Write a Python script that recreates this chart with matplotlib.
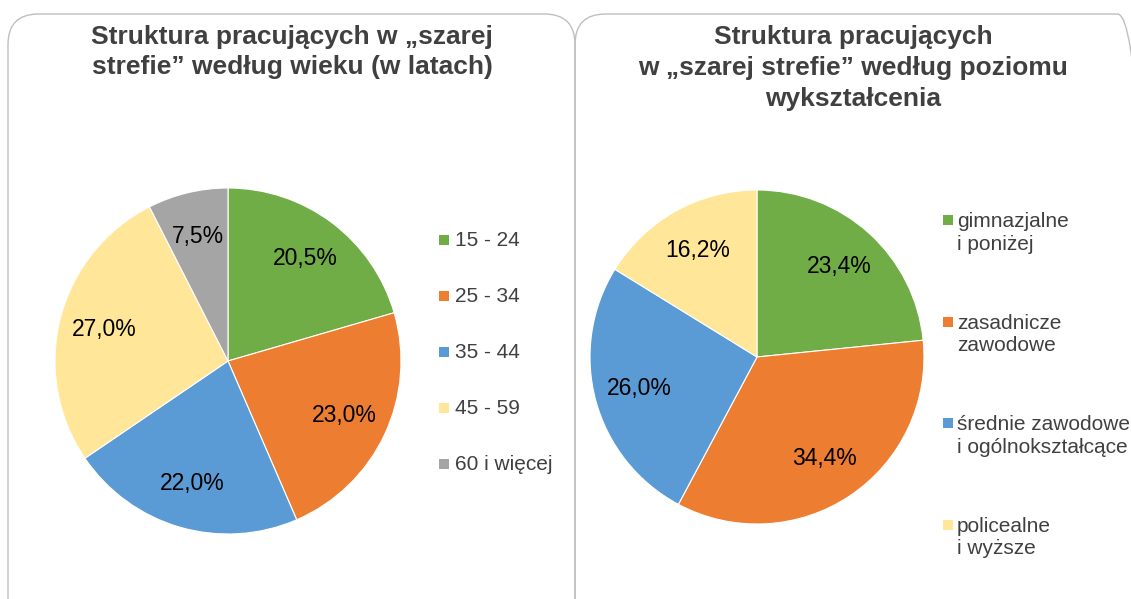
import matplotlib.pyplot as plt
from matplotlib.patches import FancyBboxPatch, Rectangle

plt.rcParams['font.family'] = ['Liberation Sans', 'DejaVu Sans']

# Data
age_labels = ['15 - 24', '25 - 34', '35 - 44', '45 - 59', '60 i więcej']
age_values = [20.5, 23.0, 22.0, 27.0, 7.5]
age_colors = ['#70AD47', '#ED7D31', '#5B9BD5', '#FFE699', '#A5A5A5']

edu_labels = ['gimnazjalne\ni poniżej', 'zasadnicze\nzawodowe',
              'średnie zawodowe\ni ogólnokształcące', 'policealne\ni wyższe']
edu_values = [23.4, 34.4, 26.0, 16.2]
edu_colors = ['#70AD47', '#ED7D31', '#5B9BD5', '#FFE699']

W, H = 1131, 599
fig = plt.figure(figsize=(W / 100, H / 100), dpi=100)


def px(x, y):
    return x / W, 1 - y / H


# panel frames
for x0, x1 in [(8, 575), (575, 1148)]:
    box = FancyBboxPatch((x0 / W, -0.05), (x1 - x0) / W, (H - 14) / H + 0.05,
                         boxstyle='round,pad=0,rounding_size=0.027',
                         transform=fig.transFigure, facecolor='none',
                         edgecolor='#BFBFBF', linewidth=1.0, mutation_aspect=W / H,
                         zorder=-1)
    fig.patches.append(box)

fmt = lambda v: f'{v:.1f}%'.replace('.', ',')


def draw_pie(cx, cy, r, values, colors, pctd):
    ax = fig.add_axes([(cx - r) / W, 1 - (cy + r) / H, 2 * r / W, 2 * r / H])
    ax.pie(values, colors=colors, startangle=90, counterclock=False,
           autopct=lambda p: fmt(p), pctdistance=pctd,
           wedgeprops=dict(edgecolor='white', linewidth=0.8),
           textprops=dict(fontsize=16.5, color='black'))
    ax.set_xlim(-1, 1)
    ax.set_ylim(-1, 1)
    ax.set_aspect('equal')
    ax.axis('off')
    return ax


draw_pie(228, 361, 173, age_values, age_colors, 0.74)
draw_pie(757, 357, 167, edu_values, edu_colors, 0.73)

# titles
fig.text(*px(292, 52), 'Struktura pracujących w „szarej\nstrefie” według wieku (w latach)',
         ha='center', va='center', fontsize=19, fontweight='bold', color='#404040',
         linespacing=1.35)
fig.text(*px(853, 68), 'Struktura pracujących\nw „szarej strefie” według poziomu\nwykształcenia',
         ha='center', va='center', fontsize=19, fontweight='bold', color='#404040',
         linespacing=1.35)

# legends
for i, (lab, col) in enumerate(zip(age_labels, age_colors)):
    y = 240 + 56 * i
    fig.patches.append(Rectangle(px(439, y + 5), 10 / W, 10 / H, transform=fig.transFigure,
                                 facecolor=col, edgecolor='none'))
    fig.text(*px(455, y), lab, ha='left', va='center', fontsize=15, color='#404040')

for i, (lab, col) in enumerate(zip(edu_labels, edu_colors)):
    y = 220 + 101.5 * i
    fig.patches.append(Rectangle(px(943, y + 5), 10 / W, 10 / H, transform=fig.transFigure,
                                 facecolor=col, edgecolor='none'))
    fig.text(*px(957, y + 13), lab, ha='left', va='center', fontsize=15, color='#404040',
             linespacing=1.25)

fig.savefig('out.png', dpi=100)
